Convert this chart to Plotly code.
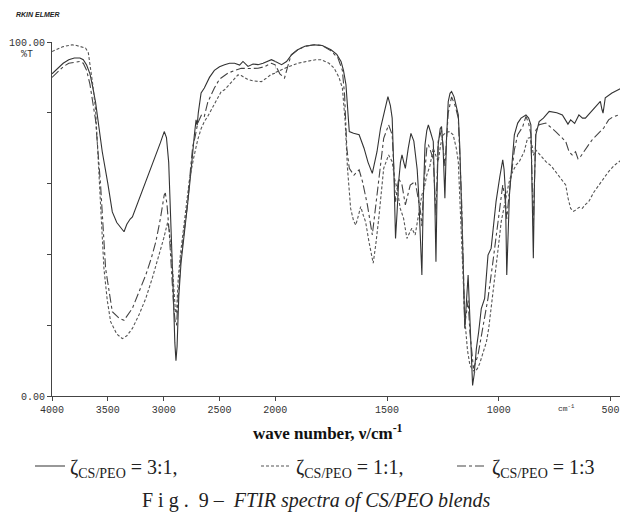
import plotly.graph_objects as go

# ---------------- data ----------------
wn_31 = [4000, 3950, 3900, 3850, 3800, 3750, 3720, 3690, 3660, 3640, 3610, 3580, 3550, 3500, 3460, 3420,
         3380, 3355, 3330, 3300, 3280, 3220, 3160, 3110, 3070, 3030, 2995, 2975, 2955, 2935, 2915, 2900,
         2890, 2880, 2865, 2845, 2815, 2785, 2760, 2740, 2725, 2710, 2700, 2690, 2665, 2636, 2590, 2546,
         2500, 2455, 2410, 2365, 2320, 2290, 2245, 2200, 2155, 2110, 2070, 2035, 2000, 1972, 1950, 1927,
         1900, 1868, 1825, 1790, 1751, 1725, 1706, 1695, 1684, 1675, 1669, 1650, 1625, 1603, 1585, 1566,
         1545, 1529, 1510, 1496, 1485, 1477, 1470, 1462, 1455, 1448, 1440, 1433, 1425, 1418, 1405, 1393,
         1380, 1374, 1365, 1359, 1350, 1344, 1338, 1330, 1322, 1315, 1305, 1293, 1286, 1281, 1276, 1271,
         1262, 1256, 1249, 1241, 1234, 1226, 1218, 1211, 1200, 1190, 1181, 1174, 1166, 1158, 1152, 1145,
         1137, 1133, 1129, 1122, 1117, 1110, 1100, 1090, 1078, 1063, 1055, 1048, 1034, 1022, 1012, 995,
         982, 976, 970, 964, 958, 952, 940, 930, 915, 900, 878, 866, 856, 850, 845, 840, 834, 819, 800,
         774, 740, 715, 690, 678, 660, 641, 625, 612, 590, 575, 545, 538, 533, 528, 523, 493, 464, 455]
t_31 = [91, 92.5, 94, 95, 95.5, 95.5, 95, 93.5, 91, 88, 83, 76, 69, 60, 52, 49,
        47.5, 46.4, 48.5, 50, 50.6, 55.5, 60.6, 64.5, 68, 71.5, 74.7, 73, 66, 50, 30, 15,
        10, 14, 28, 37.5, 47, 54.5, 62, 70, 73.8, 78, 76.5, 80, 85.6, 87, 90, 92,
        93, 93.6, 94, 94, 93.5, 94.5, 93.1, 93.8, 93.6, 94, 94.5, 95, 94.5, 93.6, 94.5, 96.4,
        97.8, 98.8, 99.2, 99, 97.8, 96.5, 94.5, 92, 88, 80, 74.7, 74.2, 73.8, 70, 66, 62.9,
        69, 75.7, 81, 84.6, 82, 78.5, 65, 44.5, 52, 60.5, 66, 68.1, 66, 64.3, 70, 74.2,
        72, 69, 64, 57.7, 45, 34.2, 55, 71, 75, 76.6, 74.5, 71.9, 55, 37.9, 58, 71,
        75.5, 76.1, 70, 55.9, 72, 83.2, 85.5, 86, 84.5, 82, 79.4, 70, 54.9, 35, 19.1, 28,
        34.2, 28, 22, 10, 3, 6, 13.4, 18, 24.7, 27.6, 33, 39.8, 41.7, 48, 54.9, 62,
        66.7, 64, 57.7, 34.2, 48, 56.8, 66, 73.8, 77.1, 78.5, 79.4, 78.5, 76.6, 60, 38.9, 60, 73.8, 77.5, 78.5,
        80.4, 80, 79.4, 76.8, 78, 77, 79.4, 78.5, 78.5, 80, 81.3, 83.2, 81, 79.9, 82, 84.2, 85.6, 86.5, 86.8]

wn_13 = [4000, 3950, 3900, 3850, 3800, 3750, 3720, 3690, 3660, 3640, 3610, 3565, 3520, 3460, 3400, 3355,
         3320, 3280, 3220, 3160, 3110, 3070, 3030, 2995, 2985, 2970, 2950, 2930, 2910, 2895, 2885, 2870,
         2845, 2815, 2785, 2760, 2740, 2720, 2695, 2660, 2636, 2605, 2546, 2500, 2425, 2360, 2305, 2250,
         2200, 2155, 2100, 2035, 2000, 1980, 1959, 1945, 1929, 1900, 1868, 1825, 1790, 1751, 1720, 1700,
         1690, 1680, 1669, 1648, 1625, 1610, 1588, 1566, 1544, 1515, 1493, 1477, 1468, 1462, 1448, 1433,
         1418, 1396, 1374, 1359, 1350, 1344, 1335, 1322, 1315, 1293, 1281, 1271, 1256, 1241, 1226, 1211,
         1195, 1181, 1166, 1152, 1137, 1129, 1113, 1093, 1071, 1048, 1026, 1004, 982, 970, 964, 958,
         952, 930, 915, 893, 878, 866, 856, 845, 838, 834, 819, 789, 745, 700, 685, 671, 656, 645,
         634, 615, 597, 580, 560, 530, 508, 490, 464, 455]
t_13 = [90, 91.5, 93, 94, 94.2, 94.5, 94, 92, 88, 84, 78, 59.6, 36, 23.8, 22, 21.4,
        23, 24.8, 29.5, 34.2, 39, 43.6, 50, 56.8, 57.3, 54, 46, 35, 25, 20.5, 20, 28,
        39.3, 47, 54.5, 64, 70.5, 73, 77.1, 79.5, 79, 83, 87, 89.5, 91.2, 92, 92.6, 92.5,
        92.6, 92.6, 93, 94, 93.5, 91, 89.8, 93, 96.4, 97.8, 98.8, 99.2, 99, 97.5, 95.5, 92,
        85, 70, 64.3, 62.4, 63.9, 60.6, 54, 45.5, 57.7, 72.8, 76.6, 73.8, 62, 54.9, 61.5, 59.6,
        54, 59.6, 60.6, 54.9, 52, 48, 60, 70, 71, 67, 51, 72, 75, 65, 80, 84.5,
        82, 78.5, 55, 20, 27, 18, 7.8, 11.5, 19, 27.6, 37.9, 49.2, 59.6, 55, 50, 54,
        58, 69.5, 73.8, 76, 79, 77, 74, 48, 68, 75, 76.6, 77.1, 74.7, 71.9, 69, 68.1, 69, 67,
        67.6, 69.5, 71, 72.5, 73.8, 75.7, 78, 78.8, 79.4, 79.6]

wn_11 = [4000, 3950, 3900, 3850, 3820, 3780, 3750, 3700, 3675, 3655, 3635, 3610, 3595, 3580, 3555, 3535,
         3505, 3475, 3420, 3370, 3330, 3280, 3220, 3160, 3100, 3040, 3000, 2965, 2950, 2930, 2910, 2895,
         2885, 2870, 2850, 2830, 2800, 2770, 2730, 2695, 2665, 2636, 2605, 2545, 2485, 2455, 2400, 2335,
         2305, 2250, 2200, 2155, 2125, 2080, 2040, 2005, 1988, 1950, 1899, 1855, 1820, 1796, 1760, 1737,
         1715, 1700, 1688, 1677, 1663, 1650, 1640, 1628, 1618, 1606, 1596, 1581, 1562, 1550, 1537, 1515,
         1493, 1477, 1465, 1455, 1441, 1426, 1411, 1400, 1389, 1374, 1359, 1344, 1333, 1322, 1308, 1293,
         1282, 1271, 1260, 1248, 1235, 1219, 1204, 1190, 1181, 1174, 1166, 1159, 1152, 1140, 1129, 1118,
         1107, 1095, 1085, 1070, 1055, 1045, 1034, 1022, 1012, 1000, 989, 978, 967, 955, 945, 930,
         922, 908, 886, 871, 860, 850, 845, 834, 815, 789, 765, 745, 720, 700, 690, 678, 665, 656,
         640, 626, 610, 597, 575, 552, 530, 508, 485, 464, 455]
t_11 = [97.3, 98, 98.7, 99, 99.2, 99, 98.8, 98.3, 97, 93, 88, 81, 72, 62.4, 48, 36,
        27, 21, 17.5, 16.2, 17, 19.1, 23, 27.6, 33.5, 39.8, 44.5, 49, 47, 40, 30, 24,
        23.4, 33, 40, 45, 53, 61, 67.5, 72.4, 75.5, 77.5, 79, 82.5, 86, 86.5, 88.5, 90.7,
        90.5, 89.5, 89, 88.8, 88.8, 89.8, 90.8, 91.2, 91.7, 92.8, 94, 94.5, 95, 95, 94, 92.6,
        90, 87, 78, 64.3, 53, 49.5, 48.3, 51, 53.5, 51, 49.2, 43.6, 37.5, 43, 50.2, 64.3,
        68.1, 66.2, 61, 58.7, 53, 50.2, 44.5, 46, 47.4, 45.5, 51.1, 56.8, 59, 62.4, 65, 70,
        68, 66.2, 71, 73.8, 74.5, 74.7, 73.8, 70, 66.2, 57, 45.5, 33, 21.9, 13, 8.7, 7.5,
        6.8, 7.8, 9.2, 12, 15.3, 19, 24.7, 30, 36, 43, 49.2, 53, 56.8, 60, 62.4, 64.3,
        65.3, 66.2, 69, 72.8, 73, 70.5, 68, 69.5, 68, 66.2, 65, 63.4, 61.5, 59.6, 56, 53, 52.2, 52.5,
        53.3, 53, 54.2, 54.9, 57.5, 59.6, 61.5, 63.4, 65, 66.2, 66.5]

labels = ["ζ<sub>CS/PEO</sub> = 3:1,", "ζ<sub>CS/PEO</sub> = 1:1,", "ζ<sub>CS/PEO</sub> = 1:3"]
x_ticks_a = [4000, 3500, 3000, 2500, 2000]
x_ticks_b = [1500, 1000, 500]
y_ticks = [0, 20, 40, 60, 80, 100]
y_ticktext = ["0.00", "", "", "", "", "100.00"]

series = [
    (labels[0], wn_31, t_31, "solid", "#333333", "legend"),
    (labels[1], wn_11, t_11, "3px,2px", "#555555", "legend2"),
    (labels[2], wn_13, t_13, "dashdot", "#444444", "legend3"),
]

# ---------------- geometry (window pixels; page body margin is removed) ----------------
W, H = 622, 517
PLOT_L, PLOT_R, PLOT_T, PLOT_B = 52, 620, 42, 396
ML, MT = PLOT_L, PLOT_T
MR = W - PLOT_R
MB = H - PLOT_B
PW = PLOT_R - PLOT_L
PH = PLOT_B - PLOT_T


def px_x(px):
    return (px - PLOT_L) / PW


def px_y(py):
    return (PLOT_B - py) / PH


fig = go.Figure()
for i, (name, wn, t, dash, col, lg) in enumerate(series):
    for xa, show in (("x", True), ("x2", False)):
        fig.add_trace(go.Scatter(
            x=wn, y=t, mode="lines", name=name, legendgroup=f"g{i}", legend=lg,
            showlegend=show, xaxis=xa, yaxis="y",
            line=dict(color=col, width=1.1, dash=dash),
            hoverinfo="skip"))

x_break = 2000
x_end = 457
# 4000-2000 region is drawn at half the scale of 2000-x_end (Perkin Elmer scale change)
wa = (4000 - x_break) / 2
wb = (x_break - x_end)
split = wa / (wa + wb)

tickfont = dict(family="Liberation Mono", size=10, color="#333")
axis_common = dict(showgrid=False, zeroline=False, showline=True, linecolor="#444",
                   linewidth=1, ticks="outside", ticklen=4, tickcolor="#444",
                   tickfont=tickfont)

leg_font = dict(family="Liberation Serif", size=20, color="#222")


def leg(px):
    return dict(orientation="h", x=px_x(px), xanchor="left", y=px_y(466), yanchor="middle",
                font=leg_font, itemwidth=30, bgcolor="rgba(0,0,0,0)", borderwidth=0)


fig.update_layout(
    width=W, height=H,
    margin=dict(l=ML, r=MR, t=MT, b=MB, autoexpand=False),
    paper_bgcolor="white", plot_bgcolor="white",
    xaxis=dict(domain=[0, split], range=[4000, x_break], tickvals=x_ticks_a,
               anchor="y", **axis_common),
    xaxis2=dict(domain=[split, 1], range=[x_break, x_end], tickvals=x_ticks_b,
                anchor="y", **axis_common),
    yaxis=dict(range=[0, 100], tickvals=y_ticks, ticktext=y_ticktext,
               anchor="x", **axis_common),
    showlegend=True,
    legend=leg(30),
    legend2=leg(256),
    legend3=leg(452),
)

fig.add_annotation(text="<b><i>RKIN ELMER</i></b>", xref="paper", yref="paper",
                   x=px_x(14), y=px_y(14), xanchor="left", yanchor="middle",
                   showarrow=False, font=dict(family="Liberation Sans", size=7, color="#222"))
fig.add_annotation(text="%T", xref="paper", yref="paper",
                   x=px_x(27), y=px_y(54), xanchor="center", yanchor="middle",
                   showarrow=False, font=tickfont)
fig.add_annotation(text="cm<sup>-1</sup>", xref="paper", yref="paper",
                   x=px_x(566), y=px_y(408), xanchor="center", yanchor="middle",
                   showarrow=False, font=dict(family="Liberation Mono", size=8, color="#333"))
fig.add_annotation(text="<b>wave number, ν/cm<sup>-1</sup></b>", xref="paper", yref="paper",
                   x=px_x(328), y=px_y(432), xanchor="center", yanchor="middle",
                   showarrow=False, font=dict(family="Liberation Serif", size=17, color="#111"))
fig.add_annotation(text="F i g .  9 –  <i>FTIR spectra of CS/PEO blends</i>", xref="paper", yref="paper",
                   x=px_x(316), y=px_y(500), xanchor="center", yanchor="middle",
                   showarrow=False, font=dict(family="Liberation Serif", size=20, color="#222"))

fig.write_html("out.html",
               config={"displayModeBar": False},
               post_script="document.body.style.margin='0';document.body.style.overflow='hidden';")
